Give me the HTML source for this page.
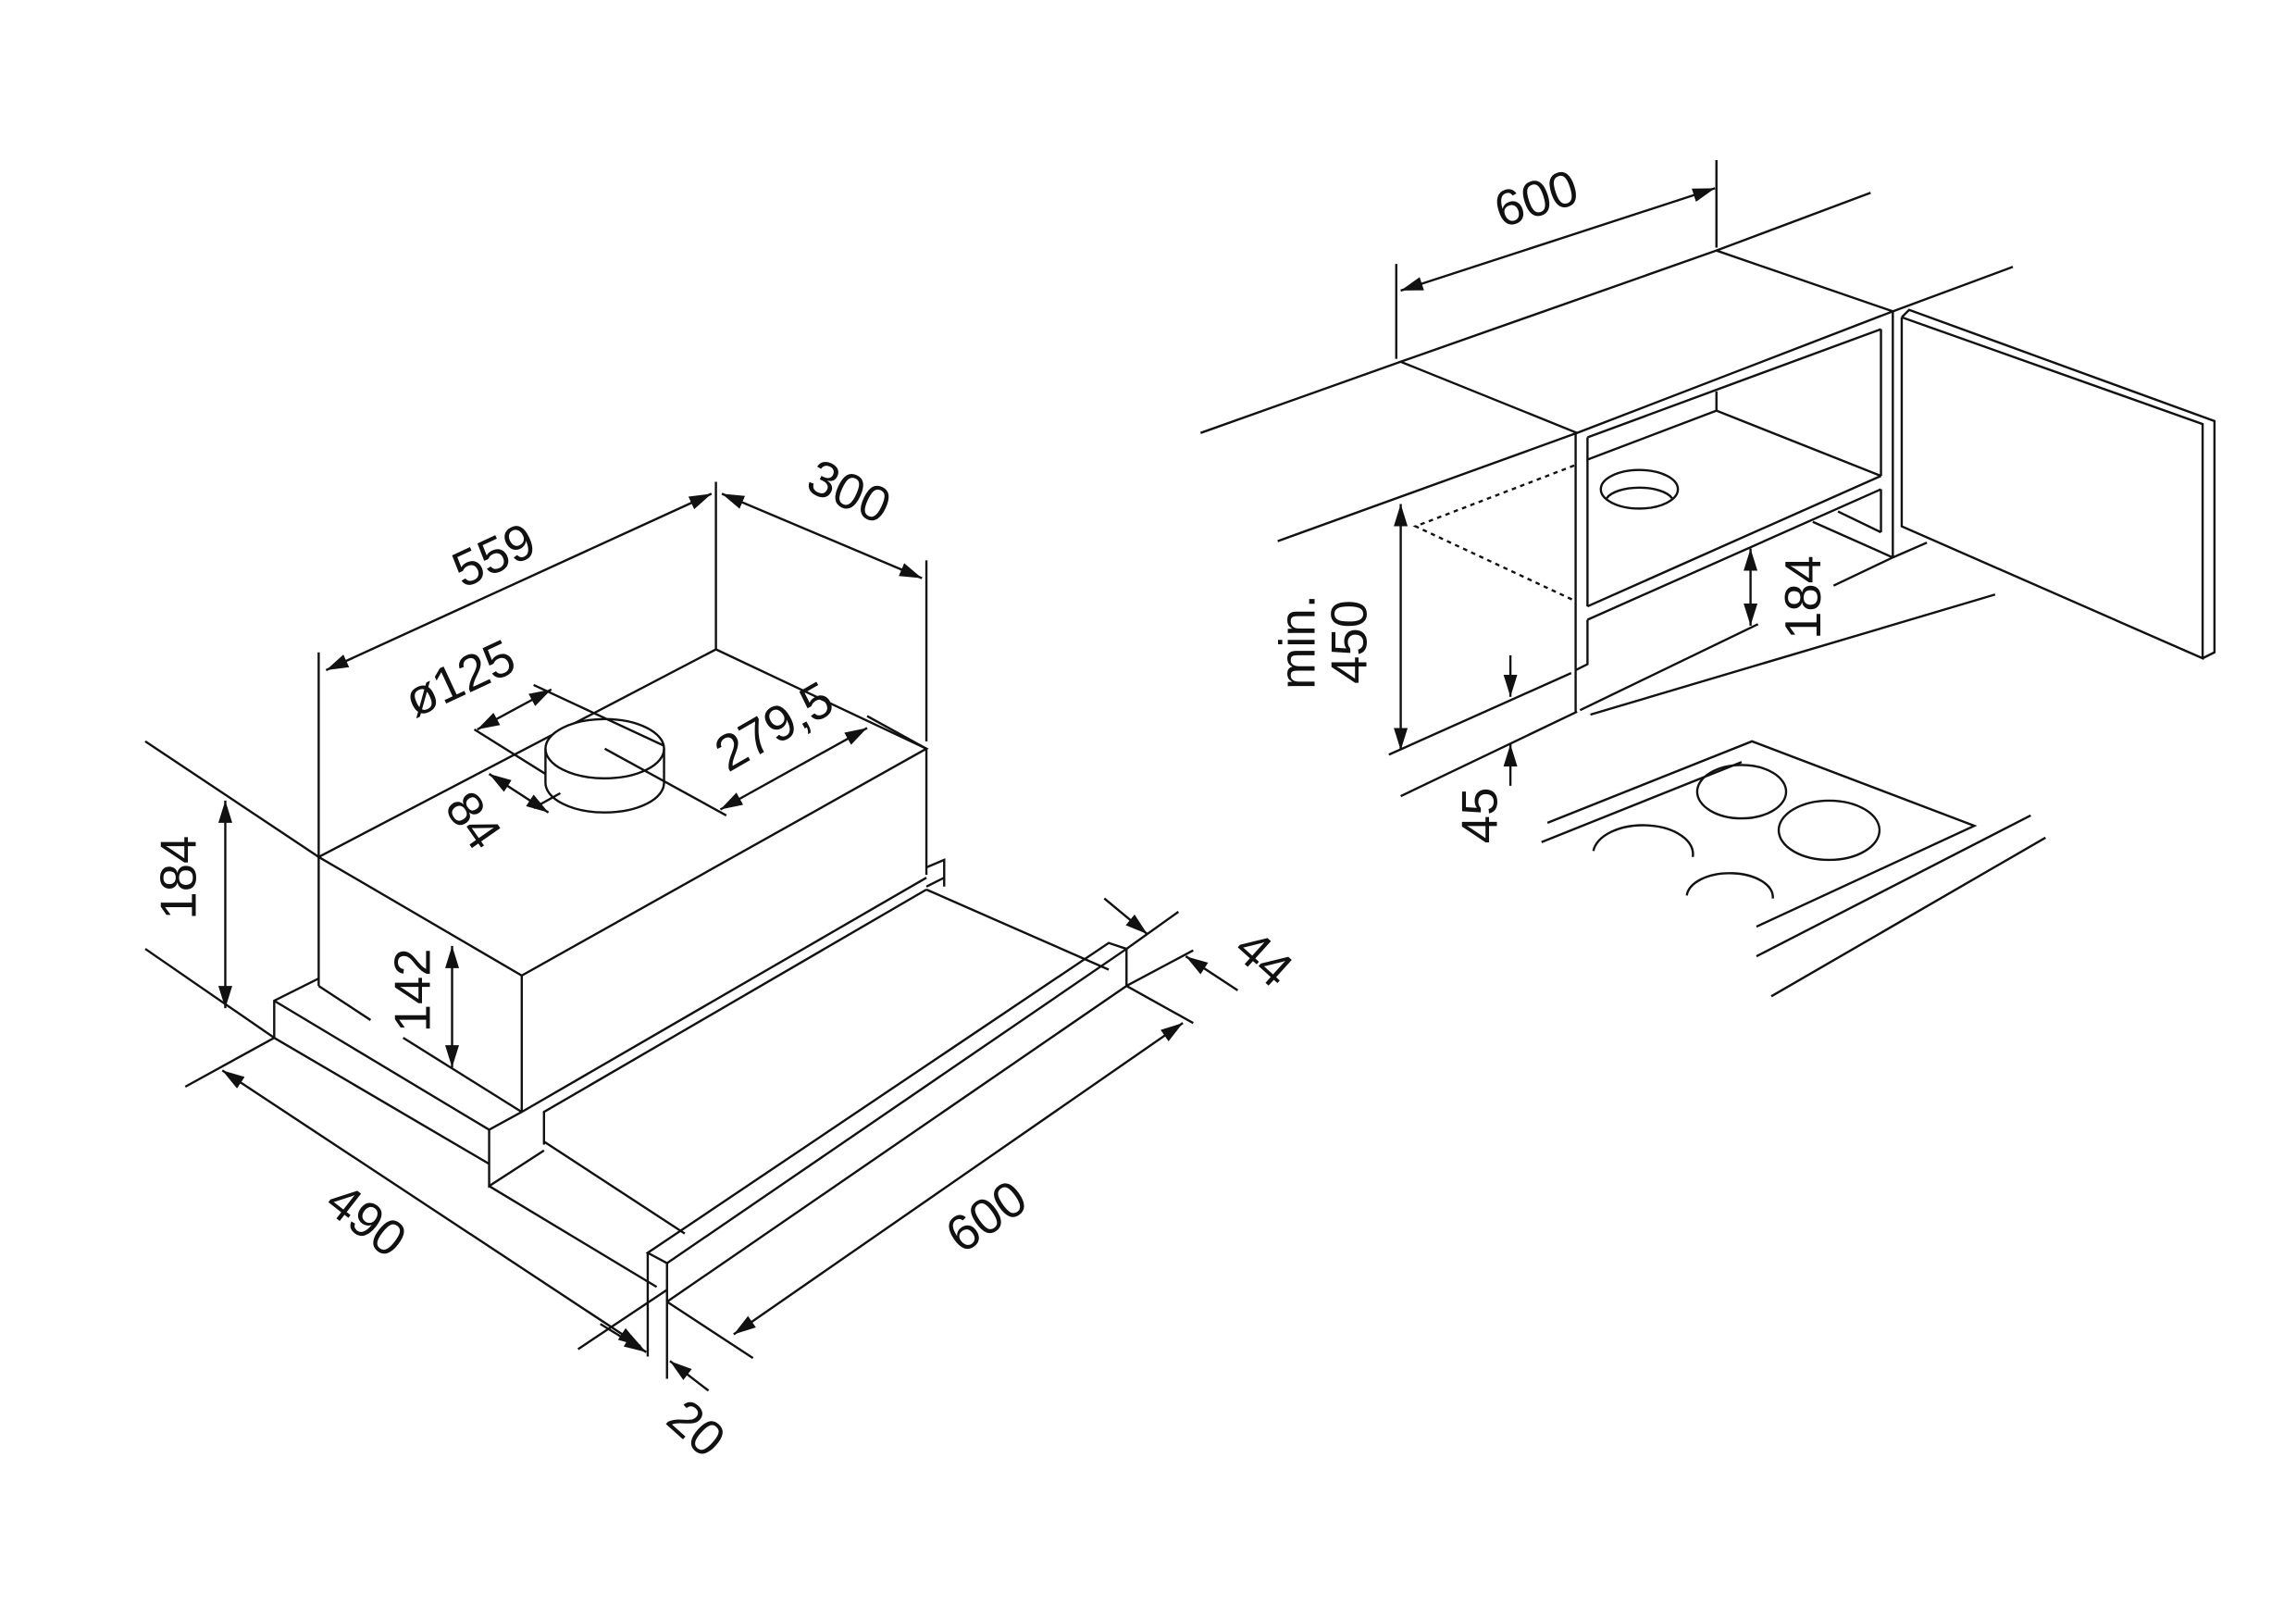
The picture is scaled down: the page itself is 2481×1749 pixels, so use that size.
<!DOCTYPE html>
<html><head><meta charset="utf-8"><style>
html,body{margin:0;padding:0;background:#fff;}
svg{display:block;}
text{font-family:"Liberation Sans",sans-serif;font-size:34px;fill:#111;}
</style></head><body>
<svg width="2481" height="1749" viewBox="0 0 1549 1092" preserveAspectRatio="none" xmlns="http://www.w3.org/2000/svg">
<defs>
<marker id="a" viewBox="0 0 16 10" refX="16" refY="5" markerWidth="15" markerHeight="10" markerUnits="userSpaceOnUse" orient="auto-start-reverse"><path d="M0,0 L16,5 L0,10 z" fill="#111"/></marker>
</defs>
<g fill="none" stroke="#111" stroke-width="1.5">
<line x1="98" y1="500" x2="215" y2="578"/>
<line x1="98" y1="640" x2="185" y2="700"/>
<line x1="125" y1="733" x2="185" y2="700"/>
<polygon points="215,578 483,438 625,505 352,658"/>
<line x1="215" y1="578" x2="215" y2="665"/>
<line x1="352" y1="658" x2="352" y2="750"/>
<line x1="625" y1="505" x2="625" y2="590"/>
<line x1="352" y1="750" x2="625" y2="592"/>
<line x1="215" y1="665" x2="250" y2="688"/>
<line x1="272" y1="700" x2="352" y2="750"/>
<polyline points="215,660 185,675 185,700"/>
<line x1="185" y1="675" x2="330" y2="762"/>
<line x1="185" y1="700" x2="330" y2="785"/>
<polyline points="352,750 330,762 330,800 367,776"/>
<polyline points="625,585 637,580 637,598"/>
<line x1="625" y1="598" x2="637" y2="592"/>
<polyline points="367,772 367,750 625,600"/>
<line x1="367" y1="770" x2="462" y2="832"/>
<line x1="625" y1="600" x2="748" y2="654"/>
<line x1="330" y1="800" x2="443" y2="868"/>
<polygon points="437,845 748,636 760,640 450,852"/>
<line x1="437" y1="845" x2="437" y2="915"/>
<line x1="450" y1="852" x2="450" y2="930"/>
<line x1="450" y1="878" x2="760" y2="665"/>
<line x1="760" y1="640" x2="760" y2="665"/>
<line x1="215" y1="440" x2="215" y2="578"/>
<line x1="483" y1="325" x2="483" y2="438"/>
<line x1="625" y1="378" x2="625" y2="500"/>
<line x1="760" y1="640" x2="795" y2="615"/>
<line x1="760" y1="665" x2="805" y2="641"/>
<line x1="760" y1="665" x2="805" y2="690"/>
<line x1="390" y1="910" x2="450" y2="870"/>
<line x1="450" y1="878" x2="508" y2="916"/>
<ellipse cx="408" cy="505" rx="40" ry="20" fill="#fff"/>
<path d="M368,505 L368,528 A40,20 0 0 0 448,528 L448,505"/>
<line x1="408" y1="505" x2="490" y2="550"/>
<line x1="360" y1="462" x2="448" y2="503"/>
<line x1="320" y1="492" x2="368" y2="522"/>
<line x1="360" y1="545" x2="378" y2="535"/>
<line x1="585" y1="483" x2="625" y2="505"/>
<line x1="220" y1="452" x2="480" y2="333" marker-start="url(#a)" marker-end="url(#a)"/>
<line x1="487" y1="333" x2="622" y2="390" marker-start="url(#a)" marker-end="url(#a)"/>
<line x1="322" y1="492" x2="372" y2="465" marker-start="url(#a)" marker-end="url(#a)"/>
<line x1="486" y1="546" x2="585" y2="491" marker-start="url(#a)" marker-end="url(#a)"/>
<line x1="330" y1="522" x2="370" y2="548" marker-start="url(#a)" marker-end="url(#a)"/>
<line x1="152" y1="540" x2="152" y2="680" marker-start="url(#a)" marker-end="url(#a)"/>
<line x1="305" y1="638" x2="305" y2="720" marker-start="url(#a)" marker-end="url(#a)"/>
<line x1="150" y1="722" x2="432" y2="908" marker-start="url(#a)" marker-end="url(#a)"/>
<line x1="495" y1="900" x2="798" y2="690" marker-start="url(#a)" marker-end="url(#a)"/>
<line x1="745" y1="606" x2="774" y2="630" marker-end="url(#a)"/>
<line x1="835" y1="668" x2="800" y2="645" marker-end="url(#a)"/>
<line x1="405" y1="893" x2="436" y2="912" marker-end="url(#a)"/>
<line x1="478" y1="938" x2="452" y2="918" marker-end="url(#a)"/>

<line x1="810" y1="292" x2="945" y2="244"/>
<line x1="1158" y1="169" x2="1262" y2="130"/>
<line x1="862" y1="365" x2="1064" y2="292"/>
<line x1="1277" y1="210" x2="1358" y2="180"/>
<polygon points="945,244 1158,169 1277,210 1064,292"/>
<line x1="942" y1="178" x2="942" y2="242"/>
<line x1="1158" y1="108" x2="1158" y2="167"/>
<line x1="945" y1="196" x2="1157" y2="127" marker-start="url(#a)" marker-end="url(#a)"/>
<line x1="1063" y1="292" x2="1063" y2="480"/>
<line x1="1071" y1="295" x2="1071" y2="409"/>
<polyline points="1071,418 1071,448 1063,452"/>
<line x1="1071" y1="295" x2="1269" y2="222"/>
<line x1="1269" y1="222" x2="1269" y2="321"/>
<line x1="1071" y1="310" x2="1158" y2="277"/>
<line x1="1158" y1="264" x2="1158" y2="277"/>
<line x1="1158" y1="277" x2="1269" y2="321"/>
<line x1="1071" y1="409" x2="1269" y2="321"/>
<line x1="1071" y1="418" x2="1269" y2="330"/>
<line x1="1269" y1="330" x2="1269" y2="359"/>
<line x1="1240" y1="345" x2="1269" y2="359"/>
<line x1="1223" y1="352" x2="1277" y2="376"/>
<line x1="1277" y1="210" x2="1277" y2="376"/>
<line x1="1277" y1="376" x2="1300" y2="366"/>
<line x1="1237" y1="395" x2="1277" y2="376"/>
<ellipse cx="1106" cy="330" rx="26" ry="13"/>
<path d="M1084,336 A23,10 0 0 1 1128,336"/>
<polyline points="1283,214 1288,209 1494,284 1494,440 1486,444"/>
<polyline points="1283,214 1486,286 1486,444 1283,355 1283,214"/>
<polyline points="1062,314 955,355 1062,405" stroke-dasharray="3,3"/>
<line x1="937" y1="509" x2="1060" y2="454"/>
<line x1="945" y1="537" x2="1064" y2="480"/>
<line x1="1066" y1="479" x2="1186" y2="421"/>
<line x1="1073" y1="482" x2="1346" y2="401"/>
<line x1="945" y1="340" x2="945" y2="506" marker-start="url(#a)" marker-end="url(#a)"/>
<line x1="1019" y1="442" x2="1019" y2="470" marker-end="url(#a)"/>
<line x1="1019" y1="530" x2="1019" y2="502" marker-end="url(#a)"/>
<line x1="1181" y1="370" x2="1181" y2="422" marker-start="url(#a)" marker-end="url(#a)"/>
<polyline points="1044,555 1182,500 1332,557 1185,625"/>
<line x1="1040" y1="568" x2="1175" y2="514"/>
<ellipse cx="1175" cy="534" rx="30" ry="18"/>
<ellipse cx="1234" cy="560" rx="34" ry="20"/>
<path d="M1075,574 A33,19 0 0 1 1142,578"/>
<path d="M1138,604 A29,16 0 0 1 1196,606"/>
<line x1="1185" y1="645" x2="1370" y2="550"/>
<line x1="1195" y1="672" x2="1380" y2="565"/>
</g>
<g>
<text transform="translate(338,385) rotate(-25)" text-anchor="middle">559</text>
<text transform="translate(568,342) rotate(25)" text-anchor="middle">300</text>
<text transform="translate(315,468) rotate(-25)" text-anchor="middle">ø125</text>
<text transform="translate(528,500) rotate(-30)" text-anchor="middle">279,5</text>
<text transform="translate(310,560) rotate(55)" text-anchor="middle">84</text>
<text transform="translate(132,592) rotate(-90)" text-anchor="middle">184</text>
<text transform="translate(290,668) rotate(-90)" text-anchor="middle">142</text>
<text transform="translate(240,832) rotate(38)" text-anchor="middle">490</text>
<text transform="translate(672,830) rotate(-35)" text-anchor="middle">600</text>
<text transform="translate(845,655) rotate(42)" text-anchor="middle">44</text>
<text transform="translate(462,972) rotate(42)" text-anchor="middle">20</text>
<text transform="translate(1040,145) rotate(-18)" text-anchor="middle">600</text>
<text transform="translate(887,433) rotate(-90)" text-anchor="middle">min.</text>
<text transform="translate(922,433) rotate(-90)" text-anchor="middle">450</text>
<text transform="translate(1010,550) rotate(-90)" text-anchor="middle">45</text>
<text transform="translate(1228,403) rotate(-90)" text-anchor="middle">184</text>
</g>
</svg>
</body></html>
